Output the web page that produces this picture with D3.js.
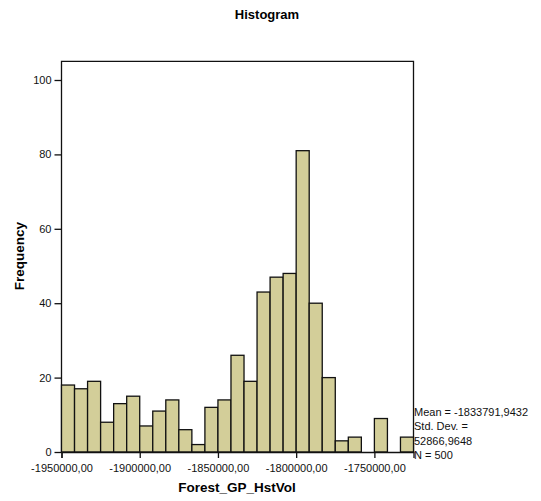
<!DOCTYPE html>
<html>
<head>
<meta charset="utf-8">
<script src="https://d3js.org/d3.v7.min.js"></script>
<style>
    body { margin: 0; background: #fff; }
    svg { display: block; font-family: "Liberation Sans", Arial, sans-serif; }
    .tick text { font-size: 11px; fill: #111; }
</style>
</head>
<body>
<div id="chart"></div>
<script>
// Histogram bins: start at -1950000, width 50000/6
const binStart = -1950000;
const binWidth = 50000 / 6;
const counts = [18, 17, 19, 8, 13, 15, 7, 11, 14, 6, 2, 12, 14, 26, 19, 43, 47, 48, 81, 40, 20, 3, 4, 0, 9, 0, 4];
const xTicks = [-1950000, -1900000, -1850000, -1800000, -1750000];
const yTicks = [0, 20, 40, 60, 80, 100];
const statLines = ["Mean = -1833791,9432", "Std. Dev. =", "52866,9648", "N = 500"];

const width = 541, height = 501;
const margin = { top: 61.5, right: 128, bottom: 49, left: 61.5 };
const innerW = 413.5 - margin.left;

const svg = d3.select("#chart").append("svg")
    .attr("width", width)
    .attr("height", height);

const x = d3.scaleLinear()
    .domain([binStart, binStart + counts.length * binWidth])
    .range([margin.left, margin.left + innerW]);

const y = d3.scaleLinear()
    .domain([0, 105])
    .range([452, 452 - 105 * (372 / 100)]);

// title
svg.append("text")
    .attr("x", 267).attr("y", 19)
    .attr("text-anchor", "middle")
    .attr("font-size", 13).attr("font-weight", "bold")
    .text("Histogram");

// frame (left, top, right)
svg.append("path")
    .attr("d", `M${x.range()[0]},452V${y(105)}H${x.range()[1]}V452`)
    .attr("fill", "none")
    .attr("stroke", "#111")
    .attr("stroke-width", 1.3);

// bars
const bins = counts.map((c, i) => ({ x0: binStart + i * binWidth, x1: binStart + (i + 1) * binWidth, n: c }));
svg.append("g").selectAll("rect")
    .data(bins)
    .enter().append("rect")
    .attr("x", d => x(d.x0))
    .attr("width", d => x(d.x1) - x(d.x0))
    .attr("y", d => y(d.n))
    .attr("height", d => y(0) - y(d.n))
    .attr("fill", "#d3ce99")
    .attr("stroke", "#111")
    .attr("stroke-width", 1.3);

// axes
const xAxis = svg.append("g")
    .attr("transform", "translate(0,452)")
    .call(d3.axisBottom(x).tickValues(xTicks).tickSize(6).tickPadding(6)
        .tickFormat(d => d.toFixed(2).replace(".", ",")));
xAxis.select(".domain").attr("stroke", "#111").attr("stroke-width", 1.3);
xAxis.selectAll(".tick line").attr("stroke", "#111").attr("stroke-width", 1.3);

const yAxis = svg.append("g")
    .attr("transform", `translate(${x.range()[0]},0)`)
    .call(d3.axisLeft(y).tickValues(yTicks).tickSize(7).tickPadding(3));
yAxis.select(".domain").remove();
yAxis.selectAll(".tick line").attr("stroke", "#111").attr("stroke-width", 1.3);

// axis labels
svg.append("text")
    .attr("x", 237).attr("y", 492)
    .attr("text-anchor", "middle")
    .attr("font-size", 13.5).attr("font-weight", "bold")
    .text("Forest_GP_HstVol");

svg.append("text")
    .attr("transform", "translate(24,256) rotate(-90)")
    .attr("text-anchor", "middle")
    .attr("font-size", 13.5).attr("font-weight", "bold")
    .text("Frequency");

// stats box
svg.append("g").selectAll("text")
    .data(statLines)
    .enter().append("text")
    .attr("x", 414)
    .attr("y", (d, i) => 416 + i * 14.3)
    .attr("font-size", 11)
    .attr("fill", "#111")
    .text(d => d);
</script>
</body>
</html>
